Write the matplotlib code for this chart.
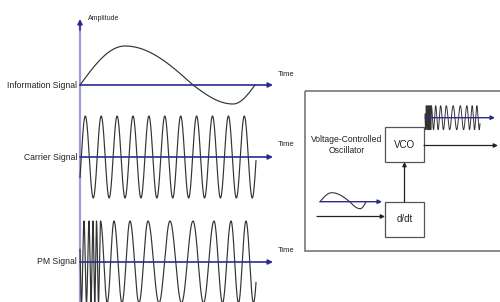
import numpy as np
import matplotlib
matplotlib.use("Agg")
import matplotlib.pyplot as plt
from matplotlib.patches import Rectangle

# ---------------- data (pixel units) ----------------
# Information signal: x of quarter-phase marks (start, peak, zero, trough, end)
info_keys_x = [80, 125, 193, 233, 255]
info_amp_pos = 39
info_amp_neg = 19
# Carrier: x positions of the crests
carrier_peaks_x = [85.3, 101.2, 117.1, 133.0, 148.9, 164.8, 180.7, 196.6, 212.5, 228.4, 244.3]
carrier_span = [80, 256]
carrier_amp = 41
# PM signal: x positions of the crests
pm_peaks_x = [84, 89, 93, 96.5, 100.5, 114, 130, 148, 170, 193, 214, 231, 246]
pm_span = [80, 256]
pm_amp = 41

row_labels = ["Information Signal", "Carrier Signal", "PM Signal"]
row_base_y = [85, 157, 262]
time_label_y = [75, 145, 250]
axis_label = "Amplitude"
time_label = "Time"

# block diagram
block_labels = ["VCO", "d/dt"]
vco_text = "Voltage-Controlled\nOscillator"
small_in_amp = [9, 7]
small_out_amp = 12

NAVY = "#2a2a8f"
LIGHT = "#9c9ce0"
WAVE = "#333333"
FONT = ["Liberation Sans Narrow", "Liberation Sans", "DejaVu Sans"]


def info_wave(x, keys, ap, an):
    phase = np.interp(x, keys, [0, np.pi / 2, np.pi, 1.5 * np.pi, 2 * np.pi])
    s = np.sin(phase)
    return np.where(s > 0, ap * s, an * s)


def peak_wave(x, peaks, amp):
    peaks = np.asarray(peaks, float)
    k = np.arange(len(peaks)) * 2 * np.pi
    phase = np.interp(x, peaks, k)
    d0 = peaks[1] - peaks[0]
    d1 = peaks[-1] - peaks[-2]
    phase = np.where(x < peaks[0], (x - peaks[0]) / d0 * 2 * np.pi, phase)
    phase = np.where(x > peaks[-1], k[-1] + (x - peaks[-1]) / d1 * 2 * np.pi, phase)
    return amp * np.cos(phase)


fig = plt.figure(figsize=(5.0, 3.02), dpi=100)
ax = fig.add_axes([0, 0, 1, 1])
ax.set_xlim(0, 500)
ax.set_ylim(302, 0)
ax.axis("off")


def arrow(x0, y0, x1, y1, color, lw=1.2, ms=7):
    ax.annotate("", xy=(x1, y1), xytext=(x0, y0),
                arrowprops=dict(arrowstyle="-|>", color=color, lw=lw,
                                mutation_scale=ms, shrinkA=0, shrinkB=0))


# vertical amplitude axis
ax.plot([80, 80], [305, 26], color=LIGHT, lw=1.6)
arrow(80, 30, 80, 19, NAVY, lw=1.2, ms=7)
ax.text(88, 19, axis_label, fontsize=5, family=FONT, va="center", ha="left", color="#222")

# left signals
x_info = np.linspace(info_keys_x[0], info_keys_x[-1], 800)
y_info = info_wave(x_info, info_keys_x, info_amp_pos, info_amp_neg)
x_car = np.linspace(carrier_span[0], carrier_span[1], 2000)
y_car = peak_wave(x_car, carrier_peaks_x, carrier_amp)
x_pm = np.linspace(pm_span[0], pm_span[1], 4000)
y_pm = peak_wave(x_pm, pm_peaks_x, pm_amp)

for (xs, ys), base, lab, ty in zip([(x_info, y_info), (x_car, y_car), (x_pm, y_pm)],
                                   row_base_y, row_labels, time_label_y):
    ax.plot(xs, base - ys, color=WAVE, lw=0.85)
    arrow(80, base, 273, base, NAVY, lw=1.2, ms=7)
    ax.text(77, base, lab, fontsize=6.2, family=FONT, ha="right", va="center", color="#222")
    ax.text(278, ty, time_label, fontsize=5.5, family=FONT, ha="left", va="center", color="#222")

# ---------------- block diagram ----------------
ax.add_patch(Rectangle((305, 91), 200, 160, fill=False, edgecolor="#777777", lw=1.2))
for lab, (bx, by) in zip(block_labels, [(385, 127), (385, 202)]):
    ax.add_patch(Rectangle((bx, by), 39, 35, fill=False, edgecolor="#555555", lw=0.9))
    ax.text(bx + 19.5, by + 17.5, lab, fontsize=7, family=FONT, ha="center", va="center", color="#222")
ax.text(347, 145, vco_text, fontsize=6.2, family=FONT, ha="center", va="center",
        color="#222", linespacing=1.4)

# arrows between blocks
arrow(404.5, 202, 404.5, 162, "#222222", lw=0.9, ms=6)
arrow(424, 145.5, 498, 145.5, "#222222", lw=0.9, ms=6)
arrow(317, 216.5, 385, 216.5, "#222222", lw=0.9, ms=6)

# small input message signal
sx0, sx1 = 320, 366
sc = (sx1 - sx0) / (info_keys_x[-1] - info_keys_x[0])
xs_small = np.linspace(info_keys_x[0], info_keys_x[-1], 400)
ys_small = info_wave(xs_small, info_keys_x, small_in_amp[0], small_in_amp[1])
ax.plot(sx0 + (xs_small - info_keys_x[0]) * sc, 201.7 - ys_small, color=WAVE, lw=0.8)
arrow(320, 201.7, 382, 201.7, NAVY, lw=1.0, ms=6)

# small output PM signal
ox0, ox1 = 425, 480
oc = (ox1 - ox0) / (pm_span[1] - pm_span[0])
xo = np.linspace(pm_span[0], pm_span[1], 4000)
yo = peak_wave(xo, pm_peaks_x, small_out_amp)
ax.plot(ox0 + (xo - pm_span[0]) * oc, 117.7 - yo, color=WAVE, lw=0.7)
arrow(425, 117.7, 495, 117.7, NAVY, lw=1.0, ms=6)

fig.savefig("out.png", dpi=100)
